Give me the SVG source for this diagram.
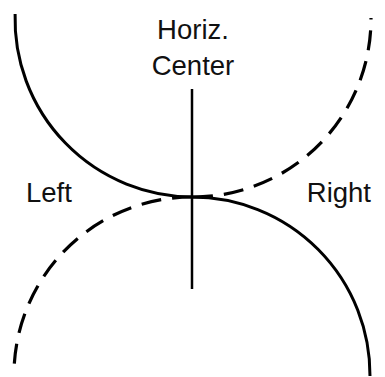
<svg xmlns="http://www.w3.org/2000/svg" width="385" height="377" viewBox="0 0 385 377">
<style>
.lbl{font-family:"Liberation Sans",Arial,sans-serif;font-size:27.5px;fill:#111}
.solid{fill:none;stroke:#000;stroke-width:3}
.dash{fill:none;stroke:#000;stroke-width:3.2;stroke-dasharray:20 11}
</style>
<rect width="385" height="377" fill="#fff"/>
<g id="connectors">
<path class="solid" d="M 15.1 14 A 178 178 0 0 0 193 197"/>
<path class="dash" d="M 193 197 A 178 178 0 0 0 371 18"/>
<path class="dash" d="M 192 197 A 178 178 0 0 0 14 371"/>
<path class="solid" d="M 192 197 A 178 178 0 0 1 370 376"/>
<line x1="192" y1="89" x2="192" y2="289" stroke="#000" stroke-width="2.5"/>
</g>
<g id="horiz-center"><text class="lbl" x="193" y="39" text-anchor="middle">Horiz.</text><text class="lbl" x="193" y="75" text-anchor="middle">Center</text></g>
<g id="left"><text class="lbl" x="26" y="202">Left</text></g>
<g id="right"><text class="lbl" x="371" y="202" text-anchor="end">Right</text></g>
</svg>
